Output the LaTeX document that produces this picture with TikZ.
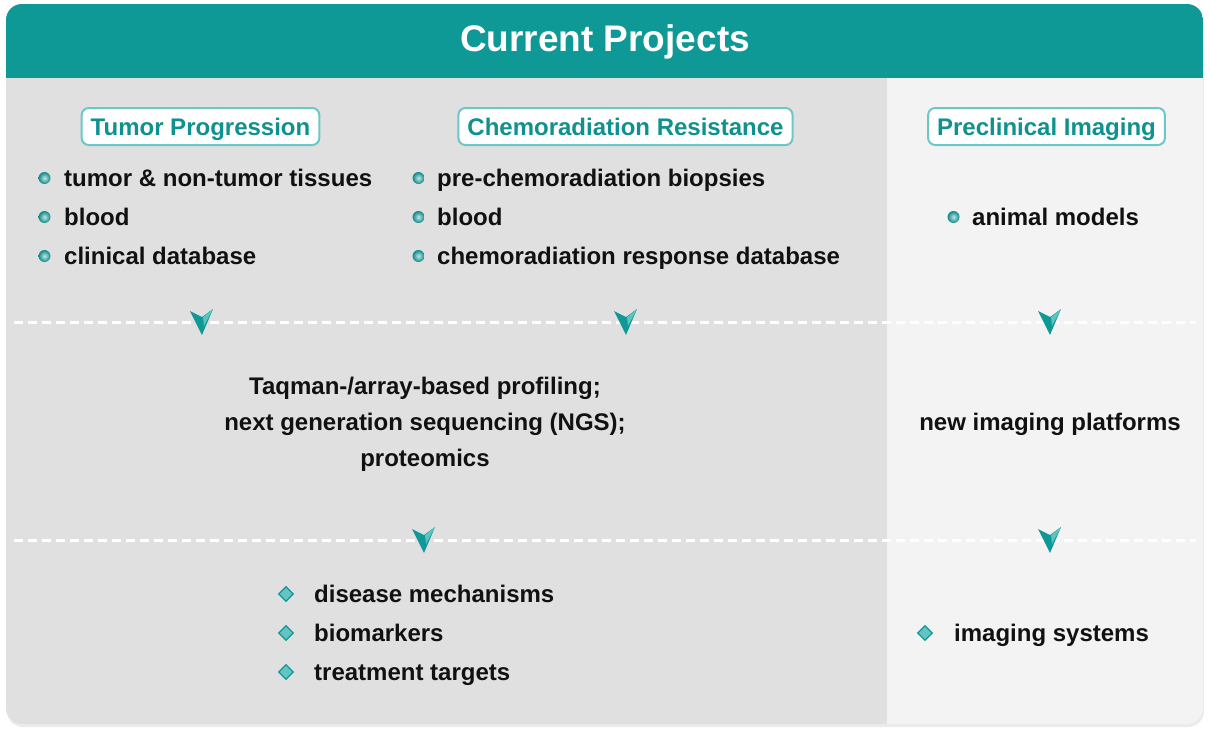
\documentclass[tikz,border=0pt]{standalone}
\usepackage{fontspec}
\setmainfont{Liberation Sans}
\usetikzlibrary{shapes.geometric}
\definecolor{tealhead}{HTML}{0E9896}
\definecolor{tealtext}{HTML}{0F918F}
\definecolor{tealborder}{HTML}{6CC8C6}
\definecolor{teallight}{HTML}{63C4C1}
\definecolor{tealfacet}{HTML}{5EC3BF}
\definecolor{leftgrey}{HTML}{E0E0E0}
\definecolor{rightgrey}{HTML}{F3F3F3}
\definecolor{bodytext}{HTML}{111111}
\tikzset{
  hdrbox/.style={draw=tealborder, line width=2pt, fill=white, rounded corners=7pt,
    text=tealtext, font=\fontsize{24}{28}\selectfont\bfseries,
    text height=18.5pt, text depth=0.5pt,
    minimum height=37pt, inner xsep=9pt, inner ysep=0pt},
  itemtext/.style={anchor=base west, inner sep=0pt, text=bodytext,
    font=\fontsize{24}{28}\selectfont\bfseries},
  midtext/.style={align=center, inner sep=0pt, text=bodytext,
    font=\fontsize{24}{36}\selectfont\bfseries},
  ballbullet/.style={circle, minimum size=12pt, inner sep=0pt, shading=radial,
    inner color=white!60!teallight, outer color=tealhead!90!black},
  diabullet/.style={diamond, minimum size=15pt, inner sep=0pt, fill=teallight,
    draw=tealhead, line width=1.2pt},
  sepline/.style={white, line width=3pt, dash pattern=on 9pt off 5pt},
  downarr/.pic={
    \fill[tealhead] (-11,-11) -- (1,-5) -- (12,-13) -- (1,13) -- cycle;
    \fill[tealfacet] (2,-5) -- (12,-13) -- (3,4) -- cycle;
  }
}
\begin{document}
\begin{tikzpicture}[x=1pt,y=-1pt]
\useasboundingbox (0,0) rectangle (1210,731);
\fill[white] (0,0) rectangle (1210,731);
\fill[black!8, rounded corners=16pt] (7,7) rectangle (1204,727);
\begin{scope}
  \clip[rounded corners=16pt] (6,4) rectangle (1203,724);
  \fill[leftgrey] (6,4) rectangle (887,724);
  \fill[rightgrey] (887,4) rectangle (1203,724);
  \fill[tealhead] (6,4) rectangle (1203,78);
\end{scope}

\node[text=white, font=\fontsize{37}{40}\selectfont\bfseries] (title) at (605,42) {Current Projects};

\node[hdrbox] (hTP) at (200.5,126.5) {Tumor Progression};
\node[hdrbox] (hCR) at (625.5,126.5) {Chemoradiation Resistance};
\node[hdrbox] (hPI) at (1046.5,126.5) {Preclinical Imaging};

% column 1 items
\node[ballbullet] (b11) at (44.5,178) {};
\node[itemtext] (t11) at (64,186.5) {tumor \& non-tumor tissues};
\node[ballbullet] (b12) at (44.5,217) {};
\node[itemtext] (t12) at (64,225.5) {blood};
\node[ballbullet] (b13) at (44.5,256) {};
\node[itemtext] (t13) at (64,264.5) {clinical database};

% column 2 items
\node[ballbullet] (b21) at (418.5,178) {};
\node[itemtext] (t21) at (437,186.5) {pre-chemoradiation biopsies};
\node[ballbullet] (b22) at (418.5,217) {};
\node[itemtext] (t22) at (437,225.5) {blood};
\node[ballbullet] (b23) at (418.5,256) {};
\node[itemtext] (t23) at (437,264.5) {chemoradiation response database};

% column 3 item
\node[ballbullet] (b31) at (953.5,217) {};
\node[itemtext] (t31) at (972,225.5) {animal models};

% separators
\coordinate (s1a) at (14,322);
\coordinate (s1b) at (1196,322);
\coordinate (s2a) at (14,540);
\coordinate (s2b) at (1196,540);
\draw[sepline] (s1a) -- (s1b);
\draw[sepline] (s2a) -- (s2b);

\pic at (201,322) {downarr};
\pic at (625,322) {downarr};
\pic at (1049,322) {downarr};
\pic at (423,540) {downarr};
\pic at (1049,540) {downarr};

% middle row
\node[midtext] (mid) at (425,424) {Taqman-/array-based profiling;\\next generation sequencing (NGS);\\proteomics};
\node[midtext] (midr) at (1050,424) {new imaging platforms};

% bottom items
\node[diabullet] (d1) at (286,594) {};
\node[itemtext] (u1) at (314,602.5) {disease mechanisms};
\node[diabullet] (d2) at (286,633) {};
\node[itemtext] (u2) at (314,641.5) {biomarkers};
\node[diabullet] (d3) at (286,672) {};
\node[itemtext] (u3) at (314,680.5) {treatment targets};
\node[diabullet] (d4) at (925,633) {};
\node[itemtext] (u4) at (954,641.5) {imaging systems};
\end{tikzpicture}
\end{document}
